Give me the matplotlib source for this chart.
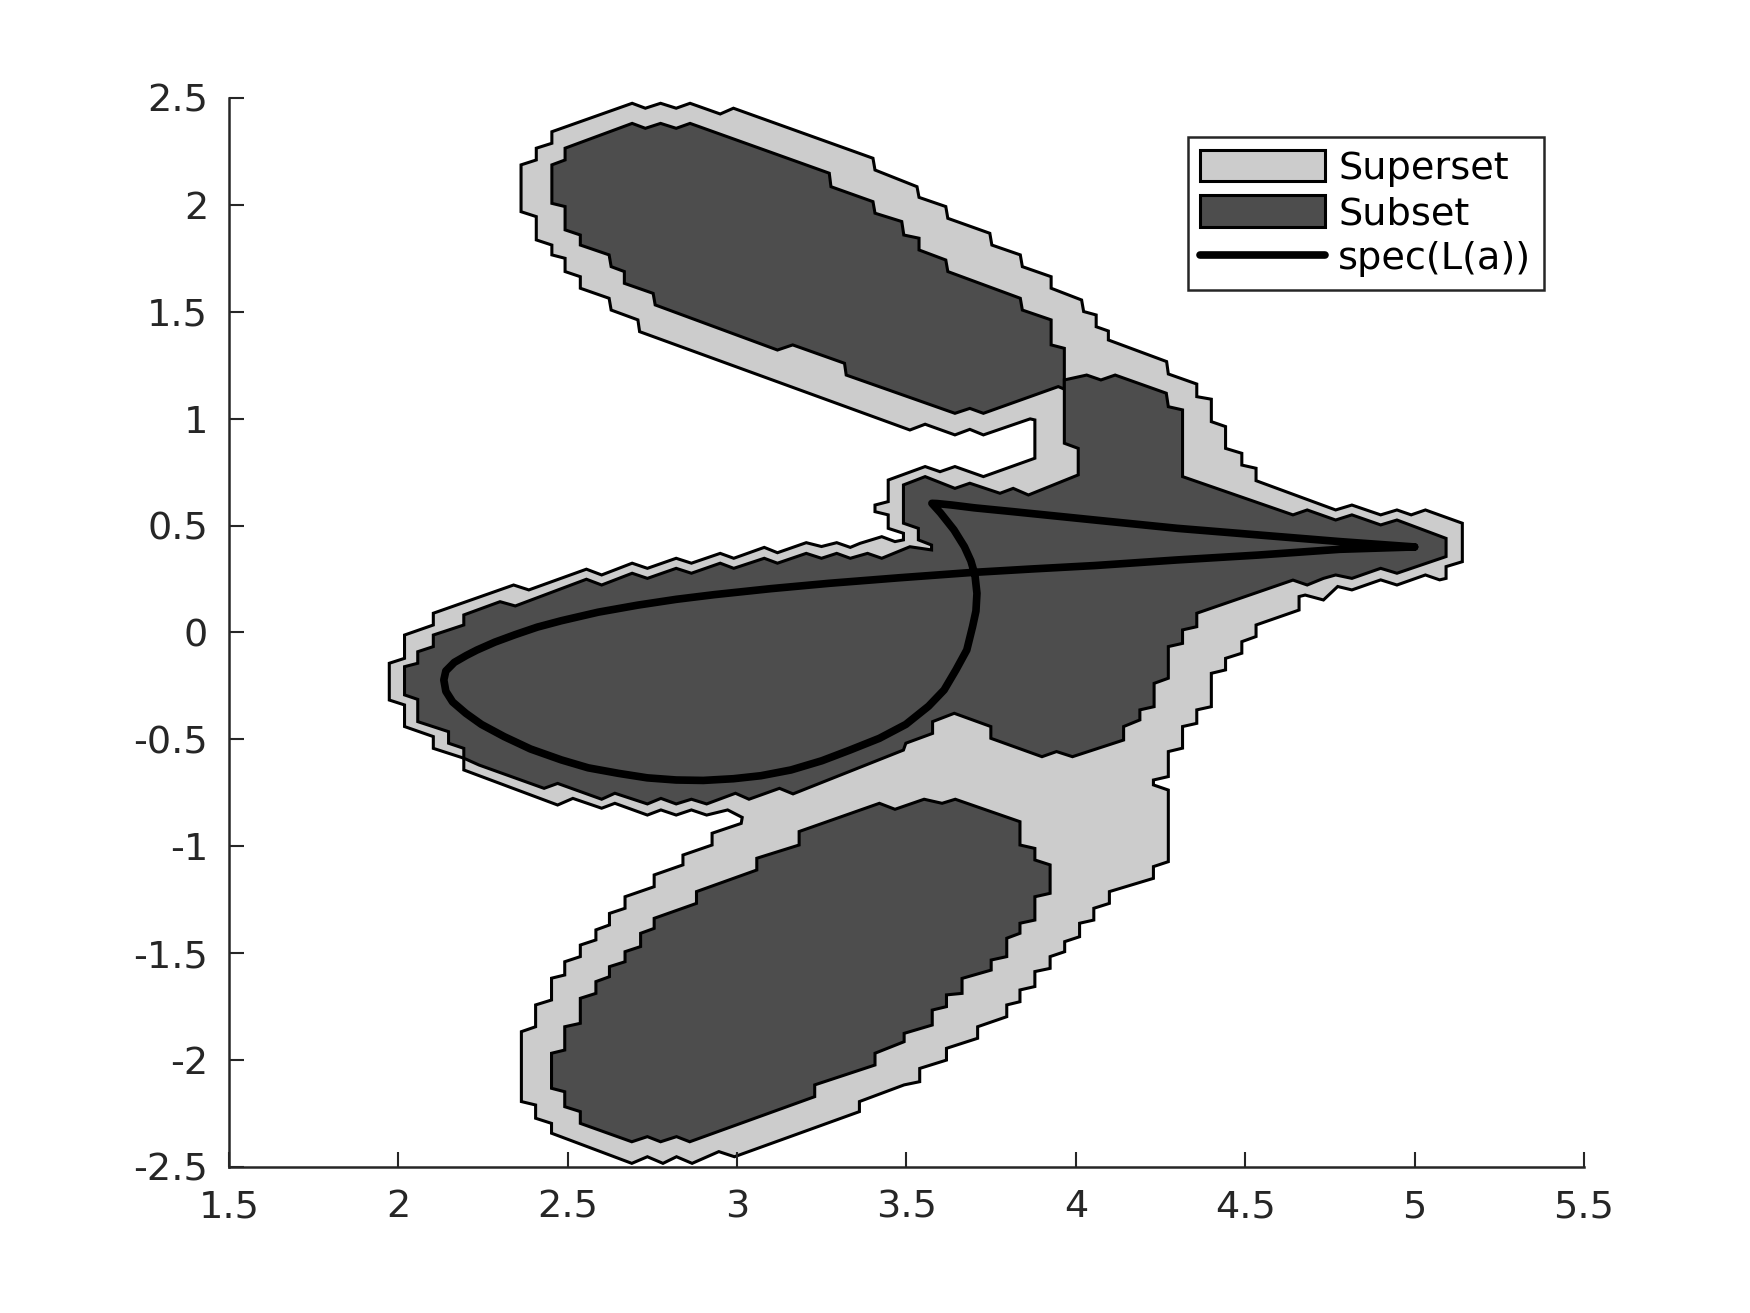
"""Superset / subset regions of a pseudospectrum with spec(L(a)) on top."""

import matplotlib

matplotlib.use("Agg")
import matplotlib.pyplot as plt
from matplotlib.ticker import FormatStrFormatter

plt.rcParams["font.family"] = ["DejaVu Sans"]
plt.rcParams["axes.unicode_minus"] = False

LIGHT = "#cccccc"
DARK = "#4d4d4d"
AXIS_COLOR = "#262626"

X_TICKS = [1.5, 2, 2.5, 3, 3.5, 4, 4.5, 5, 5.5]
Y_TICKS = [-2.5, -2, -1.5, -1, -0.5, 0, 0.5, 1, 1.5, 2, 2.5]

# outer boundary of the superset (one connected region)
SUPERSET_X = [
    2.453, 2.690, 2.729, 2.774, 2.820, 2.861, 2.950, 2.989, 3.401, 3.407,
    3.531, 3.537, 3.616, 3.622, 3.746, 3.752, 3.836, 3.842, 3.927, 3.927,
    4.017, 4.023, 4.060, 4.060, 4.096, 4.096, 4.268, 4.273,
    4.357, 4.357, 4.400, 4.400, 4.442, 4.442, 4.490, 4.490, 4.532, 4.532,
    4.767, 4.815, 4.900, 4.948, 4.990, 5.032, 5.141, 5.141, 5.093, 5.093,
    5.074, 5.032, 4.948, 4.900, 4.815, 4.773, 4.731, 4.677, 4.659, 4.659,
    4.532, 4.532, 4.490, 4.490, 4.442, 4.442, 4.400, 4.400, 4.357, 4.357,
    4.315, 4.315, 4.273, 4.273, 4.229, 4.229, 4.273, 4.273, 4.229, 4.229,
    4.099, 4.099, 4.053, 4.053, 4.011, 4.011, 3.967, 3.967, 3.924, 3.924,
    3.879, 3.879, 3.835, 3.835, 3.796, 3.796, 3.710, 3.710, 3.618, 3.618,
    3.539, 3.539, 3.493, 3.361, 3.361, 2.992, 2.946, 2.867, 2.821, 2.781,
    2.735, 2.689, 2.452, 2.452, 2.405, 2.405, 2.363, 2.363, 2.405, 2.405,
    2.452, 2.452, 2.491, 2.491, 2.537, 2.537, 2.583, 2.583, 2.623, 2.623,
    2.669, 2.669, 2.755, 2.755, 2.840, 2.840, 2.926, 2.926, 3.012, 3.015,
    2.972, 2.910, 2.865, 2.820, 2.775, 2.735, 2.639, 2.600, 2.515, 2.470,
    2.193, 2.193, 2.103, 2.103, 2.018, 2.018, 1.973, 1.973, 2.018, 2.018,
    2.103, 2.103, 2.340, 2.385, 2.555, 2.600, 2.690, 2.735, 2.820, 2.865,
    2.950, 2.990, 3.080, 3.119, 3.204, 3.249, 3.294, 3.334, 3.363, 3.427,
    3.466, 3.491, 3.491, 3.446, 3.446, 3.407, 3.407, 3.446, 3.446, 3.555,
    3.599, 3.643, 3.727, 3.879, 3.879, 3.865, 3.727, 3.687, 3.643, 3.555,
    3.510, 2.712, 2.707, 2.628, 2.622, 2.537, 2.537, 2.492, 2.492, 2.453,
    2.453, 2.407, 2.407, 2.362, 2.362, 2.407, 2.407, 2.453,
]
SUPERSET_Y = [
    2.342, 2.475, 2.452, 2.475, 2.452, 2.475, 2.425, 2.452, 2.218, 2.163,
    2.085, 2.035, 1.992, 1.937, 1.867, 1.812, 1.766, 1.711, 1.664, 1.610,
    1.555, 1.501, 1.485, 1.430, 1.410, 1.368, 1.267, 1.209,
    1.162, 1.103, 1.091, 0.986, 0.963, 0.861, 0.838, 0.783, 0.768, 0.710,
    0.573, 0.596, 0.550, 0.573, 0.550, 0.573, 0.511, 0.331, 0.308, 0.253,
    0.246, 0.269, 0.222, 0.246, 0.199, 0.215, 0.152, 0.175, 0.168, 0.105,
    0.035, -0.019, -0.043, -0.097, -0.121, -0.175, -0.191, -0.347, -0.362, -0.425,
    -0.440, -0.541, -0.557, -0.674, -0.690, -0.713, -0.737, -1.072, -1.095, -1.150,
    -1.212, -1.267, -1.290, -1.345, -1.360, -1.423, -1.446, -1.493, -1.516, -1.571,
    -1.586, -1.656, -1.672, -1.727, -1.742, -1.797, -1.844, -1.898, -1.945, -2.000,
    -2.039, -2.101, -2.116, -2.194, -2.241, -2.452, -2.428, -2.483, -2.452, -2.483,
    -2.452, -2.483, -2.342, -2.296, -2.272, -2.210, -2.194, -1.867, -1.844, -1.742,
    -1.719, -1.617, -1.602, -1.540, -1.516, -1.462, -1.438, -1.391, -1.368, -1.314,
    -1.290, -1.236, -1.189, -1.134, -1.087, -1.041, -0.994, -0.939, -0.893, -0.865,
    -0.830, -0.854, -0.830, -0.854, -0.830, -0.854, -0.799, -0.822, -0.776, -0.807,
    -0.643, -0.588, -0.542, -0.487, -0.440, -0.339, -0.316, -0.144, -0.121, -0.012,
    0.035, 0.090, 0.222, 0.199, 0.296, 0.269, 0.324, 0.300, 0.347, 0.324,
    0.370, 0.347, 0.398, 0.373, 0.420, 0.402, 0.420, 0.398, 0.417, 0.448,
    0.425, 0.433, 0.464, 0.487, 0.550, 0.565, 0.596, 0.612, 0.713, 0.776,
    0.752, 0.776, 0.729, 0.815, 0.994, 0.999, 0.924, 0.950, 0.924, 0.974,
    0.947, 1.407, 1.462, 1.508, 1.563, 1.610, 1.664, 1.688, 1.750, 1.766,
    1.812, 1.836, 1.945, 1.968, 2.187, 2.210, 2.265, 2.288,
]

# subset: upper lobe
TOP_SUB_X = [
    2.492, 2.690, 2.729, 2.774, 2.820, 2.861, 3.272, 3.277, 3.401, 3.407,
    3.486, 3.492, 3.537, 3.537, 3.616, 3.622, 3.836, 3.842, 3.927, 3.927,
    3.966, 3.966, 3.948, 3.727, 3.687, 3.643, 3.322, 3.317, 3.164, 3.119,
    2.758, 2.752, 2.667, 2.667, 2.628, 2.622, 2.537, 2.537, 2.492, 2.492,
    2.453, 2.453, 2.492,
]
TOP_SUB_Y = [
    2.265, 2.381, 2.358, 2.381, 2.358, 2.381, 2.148, 2.085, 2.015, 1.961,
    1.922, 1.859, 1.844, 1.789, 1.742, 1.688, 1.563, 1.508, 1.462, 1.345,
    1.329, 1.138, 1.150, 1.025, 1.048, 1.025, 1.204, 1.259, 1.345, 1.321,
    1.532, 1.586, 1.633, 1.688, 1.711, 1.766, 1.812, 1.859, 1.883, 1.992,
    2.007, 2.187, 2.210,
]

# subset: middle lobe with the spike to the right
MID_SUB_X = [
    3.966, 4.032, 4.074, 4.116, 4.267, 4.273, 4.315, 4.315, 4.641, 4.683,
    4.767, 4.815, 4.900, 4.948, 5.093, 5.093, 4.948, 4.900, 4.815, 4.767,
    4.731, 4.683, 4.641, 4.357, 4.357, 4.315, 4.315, 4.273, 4.273, 4.231,
    4.231, 4.189, 4.189, 4.141, 4.141, 3.990, 3.943, 3.900, 3.749, 3.749,
    3.641, 3.577, 3.577, 3.498, 3.491, 3.165, 3.125, 3.035, 2.995, 2.910,
    2.865, 2.820, 2.775, 2.735, 2.639, 2.600, 2.470, 2.430, 2.238, 2.193,
    2.193, 2.148, 2.148, 2.057, 2.057, 2.018, 2.018, 2.057, 2.057, 2.103,
    2.103, 2.193, 2.193, 2.300, 2.345, 2.555, 2.600, 2.690, 2.735, 2.820,
    2.865, 2.950, 2.990, 3.080, 3.119, 3.204, 3.249, 3.294, 3.334, 3.385,
    3.427, 3.510, 3.574, 3.574, 3.535, 3.535, 3.491, 3.491, 3.555, 3.643,
    3.687, 3.776, 3.815, 3.860, 4.007, 4.007, 3.966,
]
MID_SUB_Y = [
    1.181, 1.204, 1.181, 1.204, 1.119, 1.056, 1.041, 0.729, 0.550, 0.573,
    0.526, 0.550, 0.503, 0.526, 0.440, 0.355, 0.277, 0.300, 0.253, 0.269,
    0.253, 0.222, 0.245, 0.090, 0.027, 0.012, -0.051, -0.066, -0.214, -0.238,
    -0.347, -0.362, -0.409, -0.440, -0.503, -0.581, -0.557, -0.581, -0.495, -0.440,
    -0.378, -0.417, -0.472, -0.518, -0.550, -0.755, -0.729, -0.780, -0.752, -0.802,
    -0.780, -0.802, -0.776, -0.802, -0.752, -0.780, -0.706, -0.729, -0.620, -0.588,
    -0.542, -0.518, -0.464, -0.417, -0.313, -0.292, -0.160, -0.144, -0.090, -0.066,
    -0.012, 0.035, 0.082, 0.144, 0.124, 0.249, 0.222, 0.277, 0.253, 0.300,
    0.277, 0.324, 0.300, 0.347, 0.324, 0.370, 0.347, 0.370, 0.347, 0.370,
    0.347, 0.401, 0.386, 0.409, 0.433, 0.487, 0.511, 0.690, 0.729, 0.674,
    0.698, 0.651, 0.674, 0.643, 0.737, 0.861, 0.885,
]

# subset: lower lobe
BOT_SUB_X = [
    3.420, 3.466, 3.552, 3.605, 3.644, 3.835, 3.835, 3.879, 3.879, 3.924,
    3.924, 3.879, 3.879, 3.835, 3.835, 3.796, 3.796, 3.750, 3.750, 3.664,
    3.664, 3.618, 3.618, 3.576, 3.576, 3.493, 3.493, 3.407, 3.407, 3.229,
    3.229, 2.860, 2.821, 2.774, 2.735, 2.689, 2.537, 2.537, 2.491, 2.491,
    2.452, 2.452, 2.491, 2.491, 2.537, 2.537, 2.583, 2.583, 2.623, 2.623,
    2.669, 2.669, 2.715, 2.715, 2.755, 2.755, 2.880, 2.880, 3.058, 3.058,
    3.183, 3.183,
]
BOT_SUB_Y = [
    -0.799, -0.827, -0.780, -0.799, -0.780, -0.885, -0.994, -1.010, -1.064, -1.087,
    -1.220, -1.236, -1.345, -1.360, -1.407, -1.430, -1.516, -1.532, -1.579, -1.618,
    -1.688, -1.695, -1.750, -1.766, -1.836, -1.875, -1.914, -1.968, -2.023, -2.116,
    -2.171, -2.382, -2.358, -2.382, -2.358, -2.382, -2.296, -2.241, -2.218, -2.148,
    -2.132, -1.968, -1.953, -1.844, -1.828, -1.711, -1.688, -1.633, -1.610, -1.563,
    -1.540, -1.493, -1.469, -1.407, -1.384, -1.337, -1.267, -1.212, -1.111, -1.056,
    -0.994, -0.931,
]

# spectrum curve spec(L(a))
SPEC_X = [
    5.000, 4.780, 4.540, 4.300, 4.056, 3.815, 3.700, 3.634, 3.590, 3.575,
    3.600, 3.640, 3.671, 3.690, 3.702, 3.708, 3.705, 3.695, 3.678, 3.646,
    3.611, 3.565, 3.498, 3.420, 3.333, 3.250, 3.159, 3.070, 2.989, 2.900,
    2.820, 2.735, 2.650, 2.560, 2.481, 2.390, 2.312, 2.245, 2.199, 2.160,
    2.140, 2.134, 2.140, 2.165, 2.200, 2.232, 2.285, 2.345, 2.410, 2.481,
    2.590, 2.707, 2.820, 2.933, 3.100, 3.272, 3.480, 3.687, 3.870, 4.056,
    4.297, 4.538, 4.779, 5.000,
]
SPEC_Y = [
    0.400, 0.425, 0.456, 0.487, 0.526, 0.565, 0.583, 0.596, 0.603, 0.604,
    0.560, 0.480, 0.401, 0.335, 0.270, 0.183, 0.100, 0.027, -0.082, -0.175,
    -0.269, -0.345, -0.430, -0.495, -0.550, -0.600, -0.643, -0.670, -0.684, -0.692,
    -0.690, -0.680, -0.659, -0.633, -0.596, -0.545, -0.487, -0.430, -0.378, -0.325,
    -0.275, -0.222, -0.180, -0.140, -0.108, -0.082, -0.045, -0.010, 0.025, 0.055,
    0.095, 0.128, 0.155, 0.177, 0.205, 0.230, 0.256, 0.280, 0.297, 0.313,
    0.339, 0.362, 0.389, 0.400,
]


def main() -> None:
    """Draw the regions, the curve and the legend."""
    fig = plt.figure(figsize=(17.5, 13.13), dpi=100)
    ax = fig.add_axes([0.1309, 0.1112, 0.7742, 0.8142])

    edge = dict(edgecolor="black", linewidth=2.2)
    sup = ax.fill(SUPERSET_X, SUPERSET_Y, facecolor=LIGHT, zorder=1, **edge)[0]
    sub = ax.fill(TOP_SUB_X, TOP_SUB_Y, facecolor=DARK, zorder=2, **edge)[0]
    ax.fill(MID_SUB_X, MID_SUB_Y, facecolor=DARK, zorder=2, **edge)
    ax.fill(BOT_SUB_X, BOT_SUB_Y, facecolor=DARK, zorder=2, **edge)
    (spec,) = ax.plot(
        SPEC_X, SPEC_Y, color="black", linewidth=5.5,
        solid_joinstyle="round", solid_capstyle="round", zorder=3,
    )

    ax.set_xlim(1.5, 5.5)
    ax.set_ylim(-2.5, 2.5)
    ax.set_xticks(X_TICKS)
    ax.set_yticks(Y_TICKS)
    ax.xaxis.set_major_formatter(FormatStrFormatter("%g"))
    ax.yaxis.set_major_formatter(FormatStrFormatter("%g"))
    ax.tick_params(
        direction="in", length=11, width=1.5, colors=AXIS_COLOR, labelsize=27.5,
    )
    ax.tick_params(axis="x", pad=16)
    ax.tick_params(axis="y", pad=15)
    for side in ("top", "right"):
        ax.spines[side].set_visible(False)
    for side in ("left", "bottom"):
        ax.spines[side].set_linewidth(1.8)
        ax.spines[side].set_color(AXIS_COLOR)

    leg = ax.legend(
        [sup, sub, spec], ["Superset", "Subset", "spec(L(a))"],
        loc="upper right", bbox_to_anchor=(0.9705, 0.9635), borderaxespad=0,
        fontsize=27.5, fancybox=False, framealpha=1, edgecolor=AXIS_COLOR,
        handlelength=3.27, handleheight=0.9, handletextpad=0.34,
        labelspacing=0.22, borderpad=0.33,
    )
    leg.get_frame().set_linewidth(1.8)

    fig.savefig("out.png", dpi=100)


if __name__ == "__main__":
    main()
